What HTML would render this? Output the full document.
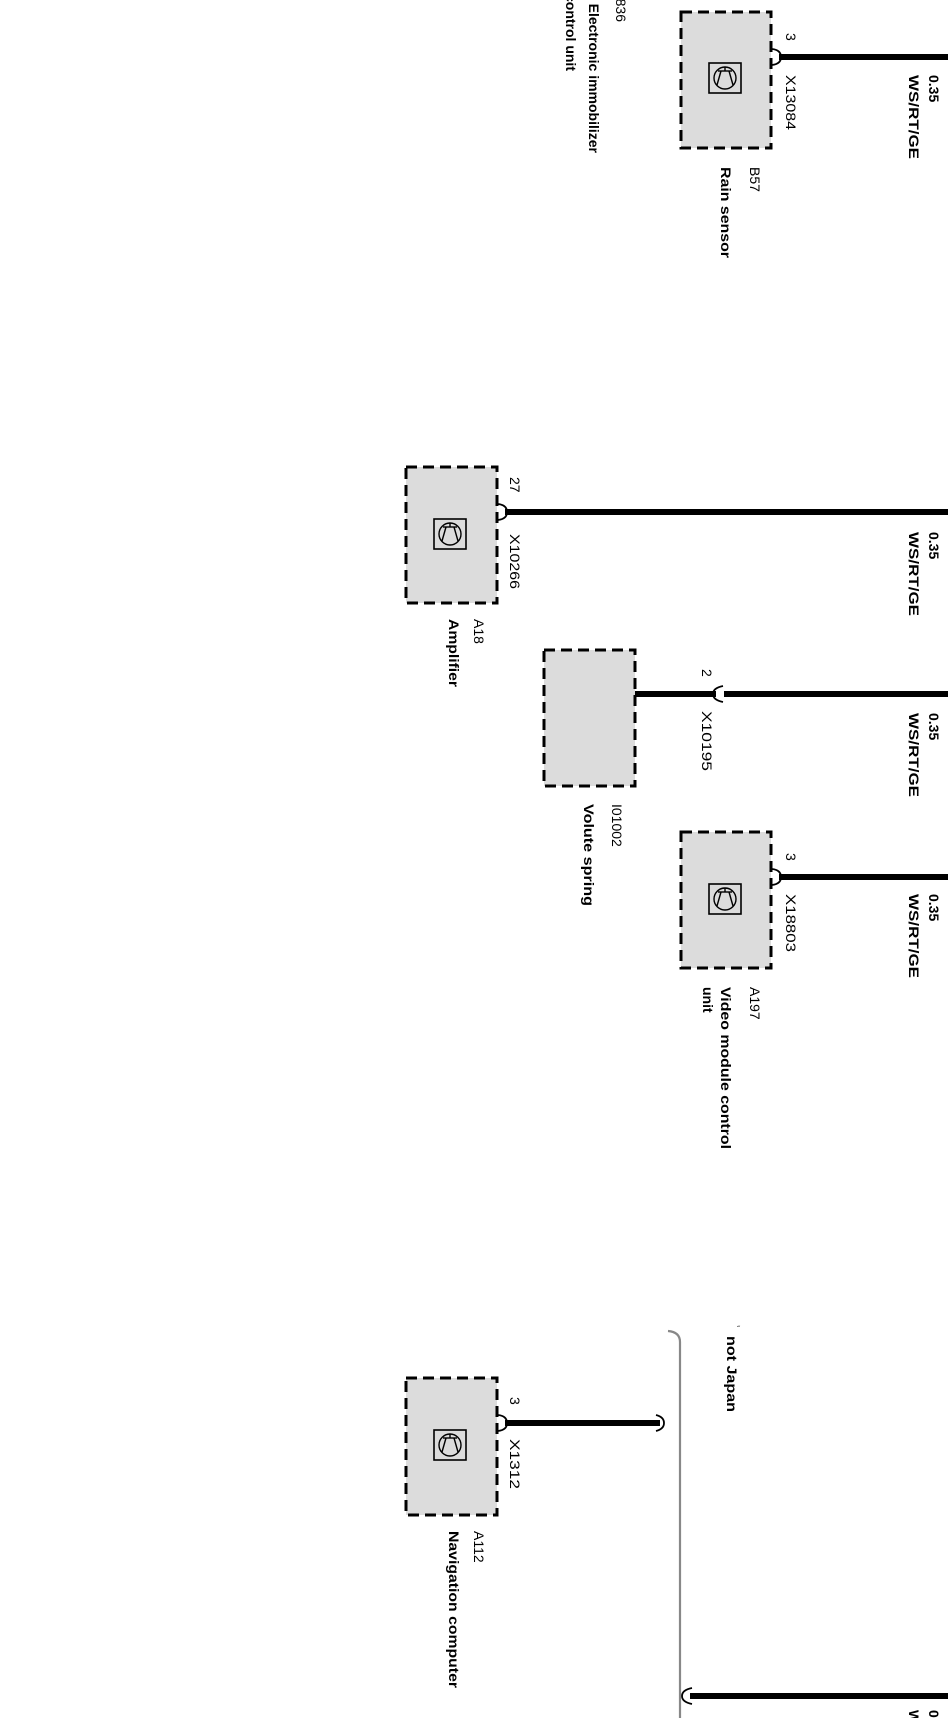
<!DOCTYPE html>
<html><head><meta charset="utf-8"><style>
html,body{margin:0;padding:0;background:#fff;}
svg{display:block;}
text{font-family:"Liberation Sans",sans-serif;fill:#000;}
.b{font-weight:bold;}
</style></head><body>
<svg width="948" height="1718" viewBox="0 0 948 1718" xmlns="http://www.w3.org/2000/svg">
<defs>
<g id="ic">
<rect x="0" y="0" width="32" height="30" fill="none" stroke="#000" stroke-width="1.6"/>
<circle cx="16" cy="15" r="11" fill="none" stroke="#000" stroke-width="1.4"/>
<line x1="9" y1="8" x2="23" y2="8" stroke="#000" stroke-width="1.4"/>
<line x1="16" y1="8" x2="16" y2="4" stroke="#000" stroke-width="1.4"/>
<line x1="12" y1="8" x2="8" y2="22" stroke="#000" stroke-width="1.4"/>
<line x1="20" y1="8" x2="24" y2="22" stroke="#000" stroke-width="1.4"/>
</g>
<path id="curl" d="M -3 -8 Q 6 -7 6 0 Q 6 7 -3 8" fill="none" stroke="#000" stroke-width="1.8"/>
</defs>

<!-- top left labels -->
<text x="616" y="22" transform="rotate(90 616 22)" font-size="14" text-anchor="end" dy="0">836</text>
<text class="b" x="589" y="153" transform="rotate(90 589 153)" font-size="14" text-anchor="end">Electronic immobilizer</text>
<text class="b" x="566" y="71" transform="rotate(90 566 71)" font-size="14" text-anchor="end">control unit</text>

<!-- B57 -->
<rect x="681" y="12" width="90" height="136" fill="#dcdcdc" stroke="#000" stroke-width="3" stroke-dasharray="11,6"/>
<use href="#ic" x="709" y="63"/>
<line x1="779" y1="57" x2="948" y2="57" stroke="#000" stroke-width="6"/>
<use href="#curl" x="775" y="57"/>
<text x="786" y="33" transform="rotate(90 786 33)" font-size="14">3</text>
<text x="786" y="75" transform="rotate(90 786 75)" font-size="14" textLength="55" lengthAdjust="spacingAndGlyphs">X13084</text>
<text x="929" y="75" transform="rotate(90 929 75)" font-size="14" class="b">0.35</text>
<text x="909" y="75" transform="rotate(90 909 75)" font-size="14" class="b" textLength="84" lengthAdjust="spacingAndGlyphs">WS/RT/GE</text>
<text x="750" y="167" transform="rotate(90 750 167)" font-size="14">B57</text>
<text x="721" y="167" transform="rotate(90 721 167)" font-size="14" class="b" textLength="91" lengthAdjust="spacingAndGlyphs">Rain sensor</text>

<!-- A18 -->
<rect x="406" y="467" width="91" height="136" fill="#dcdcdc" stroke="#000" stroke-width="3" stroke-dasharray="11,6"/>
<use href="#ic" x="434" y="519"/>
<line x1="505" y1="512" x2="948" y2="512" stroke="#000" stroke-width="6"/>
<use href="#curl" x="501" y="512"/>
<text x="510" y="477" transform="rotate(90 510 477)" font-size="14">27</text>
<text x="510" y="534" transform="rotate(90 510 534)" font-size="14" textLength="55" lengthAdjust="spacingAndGlyphs">X10266</text>
<text x="929" y="532" transform="rotate(90 929 532)" font-size="14" class="b">0.35</text>
<text x="909" y="532" transform="rotate(90 909 532)" font-size="14" class="b" textLength="84" lengthAdjust="spacingAndGlyphs">WS/RT/GE</text>
<text x="474" y="619" transform="rotate(90 474 619)" font-size="14">A18</text>
<text x="449" y="619" transform="rotate(90 449 619)" font-size="14" class="b" textLength="68" lengthAdjust="spacingAndGlyphs">Amplifier</text>

<!-- I01002 -->
<rect x="544" y="650" width="91" height="136" fill="#dcdcdc" stroke="#000" stroke-width="3" stroke-dasharray="11,6"/>
<line x1="635" y1="694" x2="716" y2="694" stroke="#000" stroke-width="6"/>
<line x1="724" y1="694" x2="948" y2="694" stroke="#000" stroke-width="6"/>
<path d="M 723 686 Q 713 688 713 694 Q 713 700 723 702" fill="none" stroke="#000" stroke-width="1.8"/>
<text x="702" y="669" transform="rotate(90 702 669)" font-size="14">2</text>
<text x="702" y="711" transform="rotate(90 702 711)" font-size="14" textLength="60" lengthAdjust="spacingAndGlyphs">X10195</text>
<text x="929" y="713" transform="rotate(90 929 713)" font-size="14" class="b">0.35</text>
<text x="909" y="713" transform="rotate(90 909 713)" font-size="14" class="b" textLength="84" lengthAdjust="spacingAndGlyphs">WS/RT/GE</text>
<text x="612" y="804" transform="rotate(90 612 804)" font-size="14">I01002</text>
<text x="584" y="804" transform="rotate(90 584 804)" font-size="14" class="b" textLength="102" lengthAdjust="spacingAndGlyphs">Volute spring</text>

<!-- A197 -->
<rect x="681" y="832" width="90" height="136" fill="#dcdcdc" stroke="#000" stroke-width="3" stroke-dasharray="11,6"/>
<use href="#ic" x="709" y="884"/>
<line x1="779" y1="877" x2="948" y2="877" stroke="#000" stroke-width="6"/>
<use href="#curl" x="775" y="877"/>
<text x="786" y="853" transform="rotate(90 786 853)" font-size="14">3</text>
<text x="786" y="894" transform="rotate(90 786 894)" font-size="14" textLength="58" lengthAdjust="spacingAndGlyphs">X18803</text>
<text x="929" y="894" transform="rotate(90 929 894)" font-size="14" class="b">0.35</text>
<text x="909" y="894" transform="rotate(90 909 894)" font-size="14" class="b" textLength="84" lengthAdjust="spacingAndGlyphs">WS/RT/GE</text>
<text x="750" y="987" transform="rotate(90 750 987)" font-size="14">A197</text>
<text x="721" y="987" transform="rotate(90 721 987)" font-size="14" class="b" textLength="162" lengthAdjust="spacingAndGlyphs">Video module control</text>
<text x="703" y="987" transform="rotate(90 703 987)" font-size="14" class="b">unit</text>

<!-- bracket -->
<path d="M 668 1331 Q 680 1332 680 1342 L 680 1718" fill="none" stroke="#888" stroke-width="2.2"/>
<text x="727" y="1336" transform="rotate(90 727 1336)" font-size="14" class="b" textLength="76" lengthAdjust="spacingAndGlyphs">not Japan</text>
<text x="737" y="1332" font-size="8">˝</text>

<!-- A112 -->
<rect x="406" y="1378" width="91" height="137" fill="#dcdcdc" stroke="#000" stroke-width="3" stroke-dasharray="11,6"/>
<use href="#ic" x="434" y="1430"/>
<line x1="505" y1="1423" x2="660" y2="1423" stroke="#000" stroke-width="6"/>
<use href="#curl" x="501" y="1423"/>
<path d="M 656 1415 Q 664 1417 664 1423 Q 664 1429 656 1431" fill="none" stroke="#000" stroke-width="1.8"/>
<text x="510" y="1397" transform="rotate(90 510 1397)" font-size="14">3</text>
<text x="510" y="1439" transform="rotate(90 510 1439)" font-size="14" textLength="50" lengthAdjust="spacingAndGlyphs">X1312</text>
<text x="474" y="1531" transform="rotate(90 474 1531)" font-size="14">A112</text>
<text x="449" y="1531" transform="rotate(90 449 1531)" font-size="14" class="b" textLength="157" lengthAdjust="spacingAndGlyphs">Navigation computer</text>

<!-- bottom wire -->
<line x1="690" y1="1696" x2="948" y2="1696" stroke="#000" stroke-width="6"/>
<path d="M 692 1688 Q 682 1690 682 1696 Q 682 1702 692 1704" fill="none" stroke="#000" stroke-width="1.8"/>
<text x="929" y="1710" transform="rotate(90 929 1710)" font-size="14" class="b">0.35</text>
<text x="909" y="1710" transform="rotate(90 909 1710)" font-size="14" class="b">WS/RT/GE</text>
</svg>
</body></html>
